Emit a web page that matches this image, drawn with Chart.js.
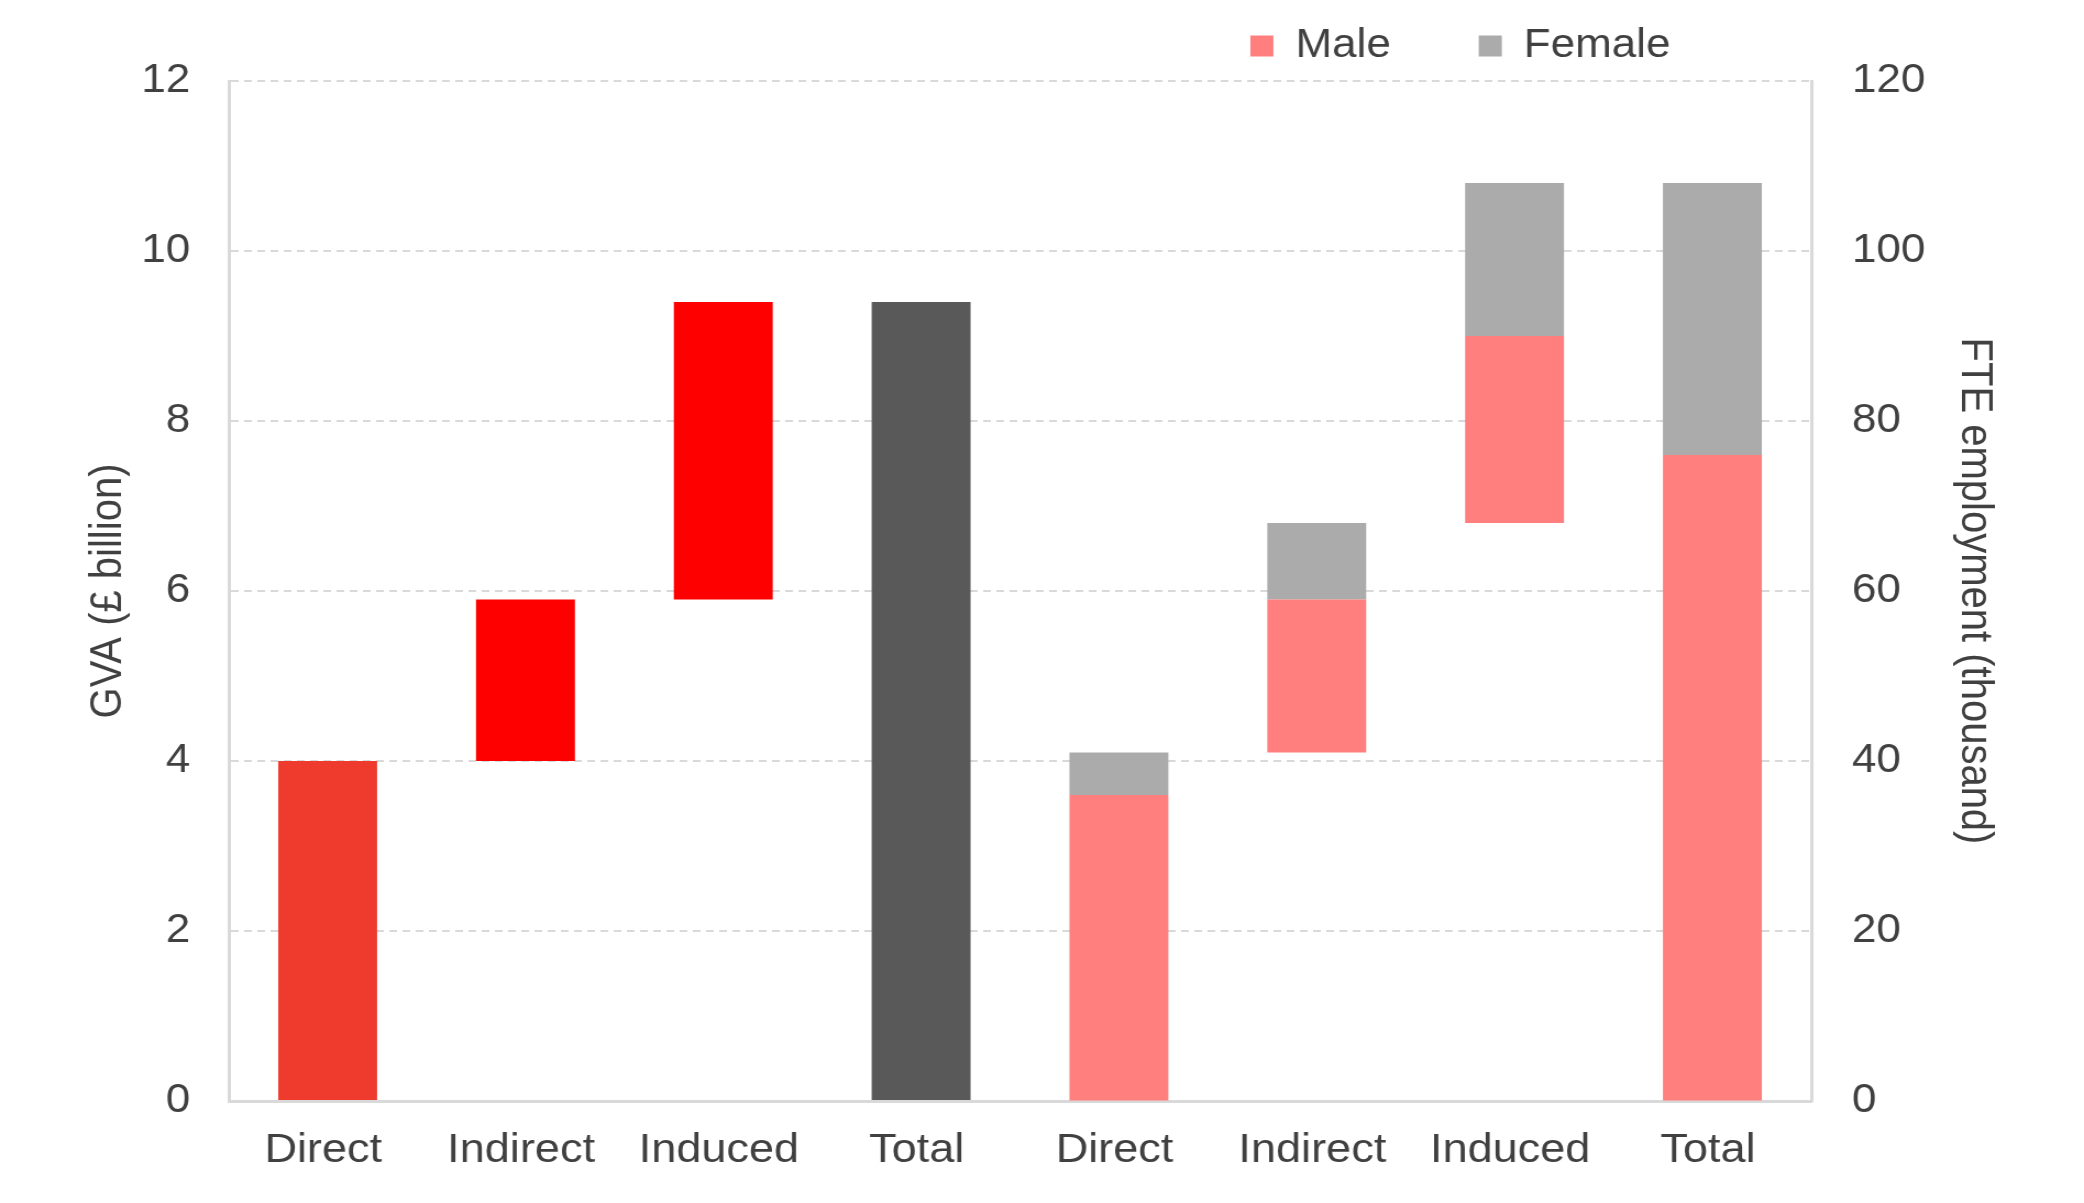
<html>

<head>
    <title>GVA and employment</title>
    <script src="https://cdn.jsdelivr.net/npm/chart.js@4.4.1/dist/chart.umd.min.js"></script>
    <style>
        body { margin: 0; background: #fff; }
    </style>
</head>

<body>
    <!-- the reference is stretched sideways about 1.1x, so draw narrower and stretch with css -->
    <canvas id="chart" width="1895" height="1203" style="width:2084px;height:1203px"></canvas>
    <script>

        const categories = ['Direct', 'Indirect', 'Induced', 'Total', 'Direct', 'Indirect', 'Induced', 'Total'];

        // GVA, £ billion (left axis) - waterfall
        const gvaStart = [0, 4.0, 5.9, 0];
        const gvaEnd = [4.0, 5.9, 9.4, 9.4];
        const gvaColors = ['#EE3B2E', '#FF0000', '#FF0000', '#595959'];

        // FTE employment, thousand (right axis)
        const maleStart = [0, 41, 68, 0];
        const maleEnd = [36, 59, 90, 76];
        const femaleStart = [36, 59, 90, 76];
        const femaleEnd = [41, 68, 108, 108];

        const gvaTicks = { min: 0, max: 12, step: 2 };
        const fteTicks = { min: 0, max: 120, step: 20 };

        const textColor = '#404040';
        const lineColor = '#D9D9D9';
        const fontFamily = '"Liberation Sans", Arial, sans-serif';

        function leftHalf(start, end) {
            return categories.map((c, i) => i < 4 ? [start[i], end[i]] : null);
        }
        function rightHalf(start, end) {
            return categories.map((c, i) => i >= 4 ? [start[i - 4], end[i - 4]] : null);
        }

        // move the legend up/right like the original
        const legendPlace = {
            id: 'legendPlace',
            afterLayout(chart) {
                const lg = chart.legend;
                const pad = lg.options.labels.padding;
                lg.top = 46 - 20 - pad;
                lg.right = chart.chartArea.right - 48;
            }
        };

        let ctx = document.getElementById('chart').getContext('2d');
        let chart = new Chart(ctx, {
            type: 'bar',
            data: {
                labels: categories,
                datasets: [{
                    label: 'GVA',
                    data: leftHalf(gvaStart, gvaEnd),
                    backgroundColor: [...gvaColors, ...gvaColors],
                    yAxisID: 'y'
                }, {
                    label: 'Male',
                    data: rightHalf(maleStart, maleEnd),
                    backgroundColor: '#FF7F7F',
                    yAxisID: 'y2'
                }, {
                    label: 'Female',
                    data: rightHalf(femaleStart, femaleEnd),
                    backgroundColor: '#ABABAB',
                    yAxisID: 'y2'
                }]
            },
            options: {
                responsive: false,
                devicePixelRatio: 1,
                animation: false,
                datasets: {
                    bar: {
                        grouped: false,
                        categoryPercentage: 1.0,
                        barPercentage: 0.5,
                        borderWidth: 0
                    }
                },
                layout: { padding: 0 },
                plugins: {
                    tooltip: { enabled: false },
                    legend: {
                        position: 'top',
                        align: 'end',
                        maxHeight: 81,
                        labels: {
                            filter: item => item.datasetIndex !== 0,
                            boxWidth: 21,
                            boxHeight: 21,
                            padding: 80,
                            color: textColor,
                            font: { family: fontFamily, size: 40 }
                        }
                    }
                },
                scales: {
                    x: {
                        afterFit: s => { s.height = 102; },
                        grid: { display: false, drawTicks: false },
                        border: { display: true, color: lineColor, width: 3 },
                        ticks: {
                            padding: 25,
                            labelOffset: -4,
                            color: textColor,
                            font: { family: fontFamily, size: 41 }
                        }
                    },
                    y: {
                        position: 'left',
                        min: gvaTicks.min,
                        max: gvaTicks.max,
                        afterFit: s => { s.width = 208; },
                        grid: { color: lineColor, lineWidth: 2, drawTicks: false },
                        border: { display: true, color: lineColor, width: 3, dash: [7, 5] },
                        ticks: {
                            stepSize: gvaTicks.step,
                            padding: 35,
                            color: textColor,
                            font: { family: fontFamily, size: 40 }
                        },
                        title: {
                            display: true,
                            text: 'GVA (£ billion)',
                            color: textColor,
                            padding: { top: 75, bottom: 0 },
                            font: { family: fontFamily, size: 40 }
                        }
                    },
                    y2: {
                        position: 'right',
                        min: fteTicks.min,
                        max: fteTicks.max,
                        afterFit: s => { s.width = 248; },
                        grid: { drawOnChartArea: false, drawTicks: false },
                        border: { display: true, color: lineColor, width: 3 },
                        ticks: {
                            stepSize: fteTicks.step,
                            padding: 37,
                            color: textColor,
                            font: { family: fontFamily, size: 40 }
                        },
                        title: {
                            display: true,
                            text: 'FTE employment (thousand)',
                            color: textColor,
                            padding: { top: 76, bottom: 0 },
                            font: { family: fontFamily, size: 40 }
                        }
                    }
                }
            },
            plugins: [legendPlace]
        });
    </script>
</body>

</html>
